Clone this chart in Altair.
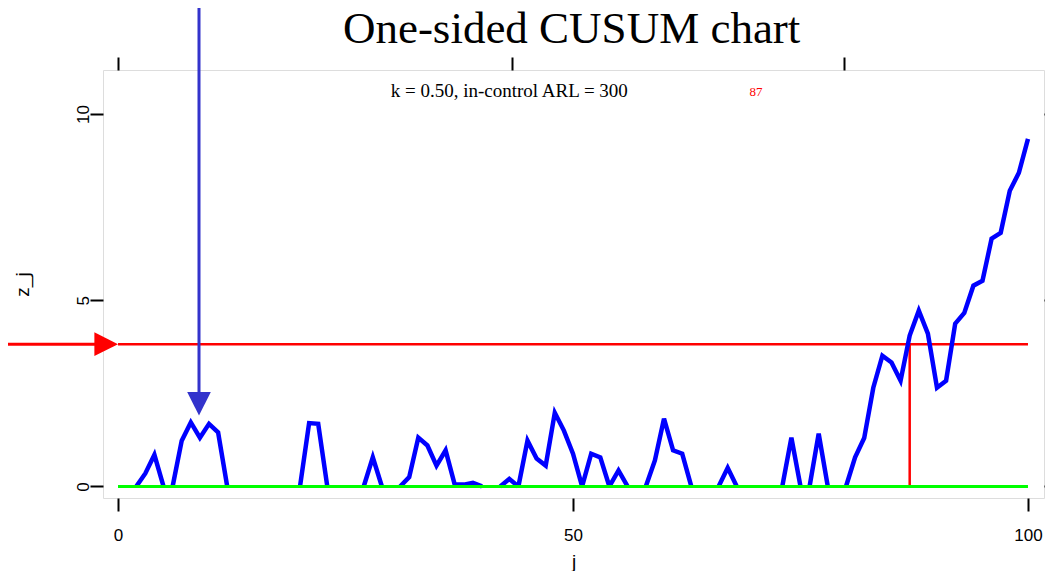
import altair as alt
import pandas as pd

# ---- data ----
j_values = list(range(1, 101))
z_values = [0, 0, 0.35, 0.85, 0, 0, 1.23, 1.72, 1.31, 1.68,
            1.45, 0, 0, 0, 0, 0, 0, 0, 0, 0,
            1.70, 1.68, 0, 0, 0, 0, 0, 0.78, 0, 0,
            0, 0.25, 1.31, 1.10, 0.56, 0.97, 0.05, 0.05, 0.10, 0,
            0, 0, 0.20, 0, 1.23, 0.75, 0.56, 1.98, 1.50, 0.88,
            0, 0.88, 0.78, 0, 0.43, 0, 0, 0, 0.70, 1.82,
            0.97, 0.88, 0, 0, 0, 0, 0.50, 0, 0, 0,
            0, 0, 0, 1.31, 0, 0, 1.42, 0, 0, 0,
            0.78, 1.30, 2.65, 3.51, 3.33, 2.84, 4.05, 4.72, 4.10, 2.65,
            2.84, 4.37, 4.66, 5.39, 5.52, 6.65, 6.81, 7.94, 8.42, 9.33]

h_threshold = 3.82
signal_j = 87
j_range = [0, 100]
x_ticks = [0, 50, 100]
y_ticks = [0, 5, 10]
top_ticks = [0, 43.3, 79.8]
x_domain = [-1.65, 101.76]
y_domain = [-0.31, 11.18]

title_text = "One-sided CUSUM chart"
title_pos = [49.85, 11.9]
note_text = "k = 0.50, in-control ARL =  300"
note_pos = [43.0, 10.46]
signal_label_pos = [70.1, 10.48]

blue_arrow = {"j": 8.9, "z_top": 12.9, "z_tip": 1.9}
red_arrow = {"j_left": -13.5, "j_tip": 0.0, "z": h_threshold}

# ---- build segments of the CUSUM path (runs above zero, with their zero ends) ----
rows = []
seg = 0
n = len(z_values)
i = 0
while i < n:
    if z_values[i] > 0:
        start = max(i - 1, 0)
        k = i
        while k < n and z_values[k] > 0:
            k += 1
        end = min(k, n - 1)
        for t in range(start, end + 1):
            rows.append({"j": j_values[t], "z": z_values[t], "seg": seg})
        seg += 1
        i = k
    else:
        i += 1
cusum = pd.DataFrame(rows)

xs = alt.Scale(domain=x_domain, nice=False, zero=False)
ys = alt.Scale(domain=y_domain, nice=False, zero=False)

tick_font = "Liberation Sans"

bottom_axis = alt.Axis(values=x_ticks, format="d", labelFont=tick_font, labelFontSize=17,
                       labelColor="black", tickSize=13, tickWidth=2, tickColor="black",
                       domain=False, grid=False, labelPadding=16,
                       title="j", titleFont=tick_font, titleFontSize=19,
                       titleFontWeight="normal", titlePadding=9, titleColor="black")
left_axis = alt.Axis(values=y_ticks, format="d", labelFont=tick_font, labelFontSize=17,
                     labelColor="black", labelAngle=270, labelAlign="center",
                     labelBaseline="alphabetic", labelPadding=2,
                     tickSize=13, tickWidth=2, tickColor="black", domain=False, grid=False,
                     title="z_j", titleFont=tick_font, titleFontSize=19, titleFontWeight="normal",
                     titleAngle=270, titlePadding=42, titleColor="black")

line = alt.Chart(cusum).mark_line(color="#0000ff", strokeWidth=4.5, strokeJoin="miter").encode(
    x=alt.X("j:Q", scale=xs, axis=bottom_axis),
    y=alt.Y("z:Q", scale=ys, axis=left_axis),
    detail="seg:N",
    order="j:Q",
)

# top/right ticks only
tick_df = pd.DataFrame({"t": top_ticks, "v": y_ticks})
tick_layer = alt.Chart(tick_df).mark_point(opacity=0).encode(
    x=alt.X("t:Q", scale=xs, axis=alt.Axis(orient="top", values=top_ticks, labels=False,
                                            tickSize=13, tickWidth=2, tickColor="black",
                                            domain=False, grid=False, title=None)),
    y=alt.Y("v:Q", scale=ys, axis=alt.Axis(orient="right", values=y_ticks, labels=False,
                                            tickSize=13, tickWidth=2, tickColor="black",
                                            domain=False, grid=False, title=None)),
)

hline_df = pd.DataFrame({"j0": [j_range[0]], "j1": [j_range[1]], "h": [h_threshold], "zero": [0.0]})
red_h = alt.Chart(hline_df).mark_rule(color="#ff0000", strokeWidth=2.5).encode(
    x=alt.X("j0:Q", scale=xs, axis=None), x2="j1:Q", y=alt.Y("h:Q", scale=ys, axis=None))
green = alt.Chart(hline_df).mark_rule(color="#00ff00", strokeWidth=3).encode(
    x=alt.X("j0:Q", scale=xs, axis=None), x2="j1:Q", y=alt.Y("zero:Q", scale=ys, axis=None))

vline_df = pd.DataFrame({"j": [signal_j], "z0": [0.0], "z1": [h_threshold]})
red_v = alt.Chart(vline_df).mark_rule(color="#ff0000", strokeWidth=2.5).encode(
    x=alt.X("j:Q", scale=xs, axis=None), y=alt.Y("z0:Q", scale=ys, axis=None), y2="z1:Q")

title_df = pd.DataFrame({"x": [title_pos[0]], "y": [title_pos[1]], "t": [title_text]})
title_mark = alt.Chart(title_df).mark_text(font="Liberation Serif", fontSize=45, color="black",
                                           baseline="alphabetic", align="center", clip=False).encode(
    x=alt.X("x:Q", scale=xs, axis=None), y=alt.Y("y:Q", scale=ys, axis=None), text="t:N")

note_df = pd.DataFrame({"x": [note_pos[0]], "y": [note_pos[1]], "t": [note_text]})
note = alt.Chart(note_df).mark_text(font="Liberation Serif", fontSize=19, color="black",
                                    baseline="alphabetic", align="center").encode(
    x=alt.X("x:Q", scale=xs, axis=None), y=alt.Y("y:Q", scale=ys, axis=None), text="t:N")

sig_df = pd.DataFrame({"x": [signal_label_pos[0]], "y": [signal_label_pos[1]], "t": [str(signal_j)]})
sig = alt.Chart(sig_df).mark_text(font="Liberation Serif", fontSize=13, color="#ff0000",
                                  baseline="alphabetic", align="center").encode(
    x=alt.X("x:Q", scale=xs, axis=None), y=alt.Y("y:Q", scale=ys, axis=None), text="t:N")

# annotation arrows
ba_df = pd.DataFrame({"j": [blue_arrow["j"]], "z0": [blue_arrow["z_top"]],
                      "z1": [blue_arrow["z_tip"] + 0.55], "tip": [blue_arrow["z_tip"] + 0.32]})
blue_shaft = alt.Chart(ba_df).mark_rule(color="#3333cc", strokeWidth=3, clip=False).encode(
    x=alt.X("j:Q", scale=xs, axis=None), y=alt.Y("z0:Q", scale=ys, axis=None), y2="z1:Q")
blue_head = alt.Chart(ba_df).mark_point(shape="M-1,-1L1,-1L0,1Z", filled=True, size=560,
                                        color="#3333cc", opacity=1, strokeWidth=0, clip=False).encode(
    x=alt.X("j:Q", scale=xs, axis=None), y=alt.Y("tip:Q", scale=ys, axis=None))

ra_df = pd.DataFrame({"j0": [red_arrow["j_left"]], "j1": [red_arrow["j_tip"] - 2.0],
                      "head": [red_arrow["j_tip"] - 1.3], "z": [red_arrow["z"]]})
red_shaft = alt.Chart(ra_df).mark_rule(color="#ff0000", strokeWidth=3, clip=False).encode(
    x=alt.X("j0:Q", scale=xs, axis=None), x2="j1:Q", y=alt.Y("z:Q", scale=ys, axis=None))
red_head = alt.Chart(ra_df).mark_point(shape="M-1,-1L1,0L-1,1Z", filled=True, size=560,
                                       color="#ff0000", opacity=1, strokeWidth=0, clip=False).encode(
    x=alt.X("head:Q", scale=xs, axis=None), y=alt.Y("z:Q", scale=ys, axis=None))

chart = alt.layer(
    tick_layer, red_h, red_v, line, green, title_mark, note, sig,
    blue_shaft, blue_head, red_shaft, red_head,
).resolve_axis(x="independent", y="independent").properties(
    width=941, height=428,
    autosize=alt.AutoSizeParams(type="none"),
    padding={"left": 95, "top": 62, "right": 1, "bottom": 73},
).configure_view(stroke="black", strokeWidth=2).configure(background="white")

chart.save("out.html", embed_options={"renderer": "svg", "actions": False})
